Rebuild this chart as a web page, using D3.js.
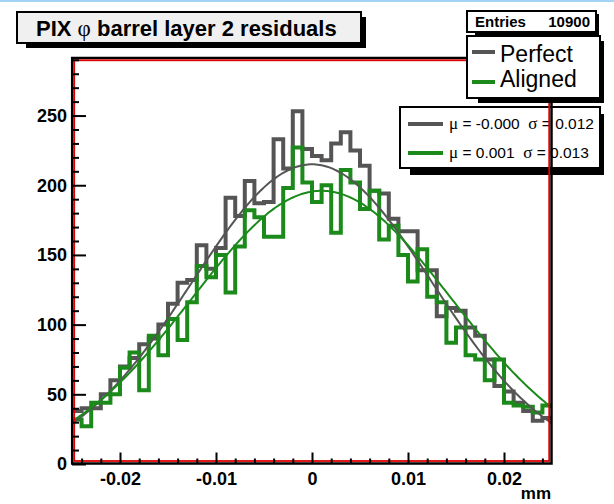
<!DOCTYPE html>
<html><head><meta charset="utf-8">
<script src="https://cdn.jsdelivr.net/npm/d3@7"></script>
<style>body{margin:0;background:#fff}svg{display:block}</style>
</head><body>
<svg id="c" width="614" height="504"></svg>
<script>
// ---- data ----
const binCenters = [-0.0245,-0.0235,-0.0225,-0.0215,-0.0205,-0.0195,-0.0185,-0.0175,-0.0165,-0.0155,
  -0.0145,-0.0135,-0.0125,-0.0115,-0.0105,-0.0095,-0.0085,-0.0075,-0.0065,-0.0055,
  -0.0045,-0.0035,-0.0025,-0.0015,-0.0005,0.0005,0.0015,0.0025,0.0035,0.0045,
  0.0055,0.0065,0.0075,0.0085,0.0095,0.0105,0.0115,0.0125,0.0135,0.0145,
  0.0155,0.0165,0.0175,0.0185,0.0195,0.0205,0.0215,0.0225,0.0235,0.0245];
const binWidth = 0.001;
const perfect = [38,40,40,50,60,70,76,86,90,100,115,130,132,157,140,155,191,178,203,187,
  188,233,212,253,226,221,218,230,238,225,214,196,194,176,167,167,139,139,106,112,
  110,98,92,75,56,52,44,38,31,33];
const aligned = [32,27,44,44,50,69,80,53,92,78,104,89,116,142,134,150,123,156,182,177,
  163,163,198,227,202,188,200,166,211,202,183,196,161,171,150,131,154,120,116,87,
  98,78,75,60,75,44,42,41,37,42];
const perfectFit = [215, 0.0, 0.0125];   // amplitude, mean, sigma
const alignedFit = [196, 0.001, 0.0135];
const seriesNames = ["Perfect", "Aligned"];
const seriesColors = ["#555555", "#1b8a1b"];
const statsMu = ["-0.000", "0.001"];
const statsSigma = ["0.012", "0.013"];
const xTicks = [-0.02, -0.01, 0, 0.01, 0.02];
const xTickLabels = ["-0.02", "-0.01", "0", "0.01", "0.02"];
const yTicks = [0, 50, 100, 150, 200, 250];
const yTickLabels = ["0", "50", "100", "150", "200", "250"];
const xDomain = [-0.025, 0.025];
const yDomain = [0, 290];
const entriesValue = "10900";

// ---- drawing ----
const svg = d3.select("#c");
const SANS = "'Liberation Sans', Arial, Helvetica, sans-serif";
const SERIF = "'Liberation Serif', 'Times New Roman', serif";

svg.append("rect").attr("x",0).attr("y",0).attr("width",614).attr("height",2).attr("fill","#a3d3f7");

const x = d3.scaleLinear().domain(xDomain).range([72, 552]);
const y = d3.scaleLinear().domain(yDomain).range([464, 59.8]);

// title box
svg.append("rect").attr("x",26).attr("y",17).attr("width",340).attr("height",31).attr("fill","#000");
svg.append("rect").attr("x",17).attr("y",12).attr("width",344).attr("height",31)
  .attr("fill","#f0f0f0").attr("stroke","#000").attr("stroke-width",2);
const tt = svg.append("text").attr("x",36).attr("y",36)
  .attr("font-family",SANS).attr("font-weight","bold").attr("font-size",22).attr("fill","#000");
tt.append("tspan").text("PIX ");
tt.append("tspan").attr("font-family",SERIF).attr("font-weight","normal").attr("font-size",23).text("φ");
tt.append("tspan").text(" barrel layer 2 residuals");

// entries box
svg.append("rect").attr("x",475).attr("y",14).attr("width",124).attr("height",21).attr("fill","#000");
svg.append("rect").attr("x",467).attr("y",11).attr("width",129).attr("height",21)
  .attr("fill","#fff").attr("stroke","#000").attr("stroke-width",2);
svg.append("text").attr("x",475).attr("y",27).attr("font-family",SANS).attr("font-weight","bold")
  .attr("font-size",15).text("Entries");
svg.append("text").attr("x",590).attr("y",27).attr("text-anchor","end").attr("font-family",SANS)
  .attr("font-weight","bold").attr("font-size",15).text(entriesValue);

// plot
svg.append("clipPath").attr("id","clip").append("rect")
  .attr("x",72).attr("y",59).attr("width",480).attr("height",405);
const plot = svg.append("g").attr("clip-path","url(#clip)");

function histPoints(vals){
  const pts = [];
  vals.forEach((v,i)=>{
    pts.push([binCenters[i]-binWidth/2, v]);
    pts.push([binCenters[i]+binWidth/2, v]);
  });
  return pts;
}
const line = d3.line().x(d=>x(d[0])).y(d=>y(d[1]));

[perfect, aligned].forEach((vals,k)=>{
  plot.append("path").attr("d", line(histPoints(vals))).attr("fill","none")
    .attr("stroke", seriesColors[k]).attr("stroke-width",4).attr("stroke-linejoin","miter");
});

function gaussPts(p){
  const xs = d3.range(xDomain[0], xDomain[1]+1e-9, 0.0002);
  return xs.map(t=>[t, p[0]*Math.exp(-0.5*Math.pow((t-p[1])/p[2],2))]);
}
[perfectFit, alignedFit].forEach((p,k)=>{
  plot.append("path").attr("d", line(gaussPts(p))).attr("fill","none")
    .attr("stroke", seriesColors[k]).attr("stroke-width",2);
});

// stats box
svg.append("rect").attr("x",410).attr("y",114).attr("width",194).attr("height",61).attr("fill","#000");
svg.append("rect").attr("x",400).attr("y",107).attr("width",200).attr("height",61)
  .attr("fill","#fff").attr("stroke","#000").attr("stroke-width",2);
[0,1].forEach(k=>{
  const ly = 124 + k*29;
  svg.append("line").attr("x1",408).attr("x2",443).attr("y1",ly).attr("y2",ly)
    .attr("stroke",seriesColors[k]).attr("stroke-width",4);
  const t = svg.append("text").attr("x",449).attr("y",ly+5).attr("font-family",SANS)
    .attr("font-size",15.5).attr("fill","#000").attr("xml:space","preserve");
  t.append("tspan").attr("font-family",SERIF).attr("font-size",17).text("μ");
  t.append("tspan").text(" = " + statsMu[k] + "  ");
  t.append("tspan").attr("font-family",SERIF).attr("font-size",17).text("σ");
  t.append("tspan").text(" = " + statsSigma[k]);
});

// frame
svg.append("rect").attr("x",72.2).attr("y",58).attr("width",479.3).attr("height",405.5)
  .attr("fill","none").attr("stroke","#000").attr("stroke-width",2.5);
svg.append("rect").attr("x",74.2).attr("y",60.3).attr("width",475).attr("height",400.7)
  .attr("fill","none").attr("stroke","#e00000").attr("stroke-width",1.8);

// axes
const yMinor = d3.range(0, 291, 10).filter(v=>v%50!==0);
const xMinor = d3.range(-24, 25, 2).filter(v=>v%10!==0).map(v=>v/1000);

const gy = svg.append("g").attr("transform","translate(72,0)")
  .call(d3.axisLeft(y).tickValues(yTicks).tickFormat((d,i)=>yTickLabels[i])
    .tickSizeInner(-14).tickSizeOuter(0).tickPadding(5));
const gyMinor = svg.append("g").attr("transform","translate(72,0)")
  .call(d3.axisLeft(y).tickValues(yMinor).tickFormat("").tickSizeInner(-7).tickSizeOuter(0));
const gx = svg.append("g").attr("transform","translate(0,463.5)")
  .call(d3.axisBottom(x).tickValues(xTicks).tickFormat((d,i)=>xTickLabels[i])
    .tickSizeInner(-11).tickSizeOuter(0).tickPadding(9));
const gxMinor = svg.append("g").attr("transform","translate(0,463.5)")
  .call(d3.axisBottom(x).tickValues(xMinor).tickFormat("").tickSizeInner(-5).tickSizeOuter(0));
[gy, gyMinor, gx, gxMinor].forEach(g=>{
  g.select(".domain").remove();
  g.selectAll(".tick line").attr("stroke","#000").attr("stroke-width",2);
  g.selectAll(".tick text").attr("font-family",SANS).attr("font-weight","bold")
    .attr("font-size",18).attr("fill","#000");
});

svg.append("text").attr("x",551).attr("y",499).attr("text-anchor","end")
  .attr("font-family",SANS).attr("font-weight","bold").attr("font-size",17).text("mm");

// legend
svg.append("rect").attr("x",478).attr("y",41).attr("width",126).attr("height",62).attr("fill","#000");
svg.append("rect").attr("x",467).attr("y",36).attr("width",133).attr("height",62)
  .attr("fill","#fff").attr("stroke","#000").attr("stroke-width",2);
seriesNames.forEach((n,k)=>{
  const ly = 52 + k*30;
  svg.append("line").attr("x1",472).attr("x2",495).attr("y1",ly).attr("y2",ly)
    .attr("stroke",seriesColors[k]).attr("stroke-width",4);
  svg.append("text").attr("x",500).attr("y",61.5+k*25.5).attr("font-family",SANS)
    .attr("font-size",23).attr("fill","#000").text(n);
});
</script>
</body></html>
